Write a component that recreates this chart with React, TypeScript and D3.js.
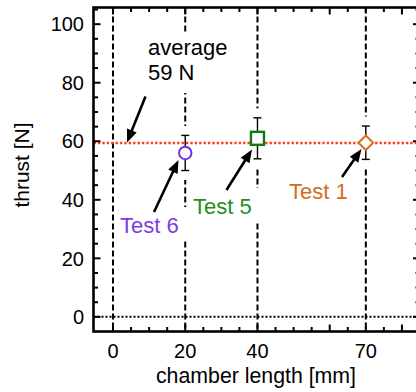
import React from "react";
import * as d3 from "d3";

// ---- data ----
const testNames = ["Test 6", "Test 5", "Test 1"];
const chamberLengths = [20, 40, 70];
const thrustValues = [56, 61, 59.5];
const thrustErrors = [6, 7, 5.7];
const markerShapes = ["circle", "square", "diamond"];
const markerColors = ["#7433e0", "#127a12", "#d9701c"];
const labelColors = ["#7a3ee6", "#1f8f1f", "#d46c1f"];
const averageThrust = 59.4;
const guideLengths = [0, 20, 40, 70];
const xTickLabels = [0, 20, 40, 70];
const yTickLabels = [0, 20, 40, 60, 80, 100];

const W = 416;
const H = 392;
const FONT = "'Liberation Sans', Arial, Helvetica, sans-serif";

const x = d3.scaleLinear().domain([-5.4, 85]).range([93.5, 420]);
const y = d3.scaleLinear().domain([-5, 105.7]).range([331.5, 7.5]);

function Arrow({ x1, y1, x2, y2 }: { x1: number; y1: number; x2: number; y2: number }) {
  const dx = x2 - x1, dy = y2 - y1;
  const len = Math.hypot(dx, dy);
  const ux = dx / len, uy = dy / len;
  const hl = 13, hw = 5.2;
  const bx = x2 - ux * hl, by = y2 - uy * hl;
  const px = -uy, py = ux;
  return (
    <g>
      <line x1={x1} y1={y1} x2={bx + ux * 2} y2={by + uy * 2} stroke="#000" strokeWidth={2.6} />
      <path
        d={`M${x2},${y2}L${bx + px * hw},${by + py * hw}L${bx - px * hw},${by - py * hw}Z`}
        fill="#000"
      />
    </g>
  );
}

function Marker({ shape, cx, cy, color }: { shape: string; cx: number; cy: number; color: string }) {
  if (shape === "circle")
    return <circle cx={cx} cy={cy} r={6.2} fill="#fff" stroke={color} strokeWidth={2} />;
  if (shape === "square")
    return <rect x={cx - 6.5} y={cy - 6.5} width={13} height={13} fill="#fff" stroke={color} strokeWidth={2.4} />;
  const s = 7.3;
  return (
    <path
      d={`M${cx},${cy - s}L${cx + s},${cy}L${cx},${cy + s}L${cx - s},${cy}Z`}
      fill="#fff"
      stroke={color}
      strokeWidth={2}
    />
  );
}

export default function App() {
  const [x0, x1] = x.range();
  const [y0, y1] = y.range(); // y0 bottom, y1 top
  const xTicks = d3.range(0, 86, 5).filter((v) => x(v) > x0 + 1 && x(v) < x1 - 1);
  const yTicks = d3.range(0, 106, 5).filter((v) => y(v) < y0 - 1 && y(v) > y1 + 1);

  return (
    <svg
      width={W}
      height={H}
      style={{ position: "absolute", left: 0, top: 0, display: "block", background: "#fff" }}
      fontFamily={FONT}
    >
      {/* vertical dashed guides */}
      {guideLengths.map((g) => (
        <line key={"g" + g} x1={x(g)} x2={x(g)} y1={y1} y2={y0} stroke="#000" strokeWidth={2} strokeDasharray="6,3" />
      ))}

      {/* white halos behind error bars */}
      {chamberLengths.map((c, i) => (
        <rect
          key={"h" + i}
          x={x(c) - 5}
          width={10}
          y={y(thrustValues[i] + thrustErrors[i]) - 9.5}
          height={y(thrustValues[i] - thrustErrors[i]) - y(thrustValues[i] + thrustErrors[i]) + 19}
          fill="#fff"
        />
      ))}

      {/* white boxes behind annotations */}
      <rect x={142} y={33} width={92} height={60} fill="#fff" />
      <rect x={116} y={207} width={74} height={34} fill="#fff" />
      <rect x={189} y={188} width={73} height={34} fill="#fff" />

      {/* zero line */}
      <line x1={x0} x2={x1} y1={y(0)} y2={y(0)} stroke="#000" strokeWidth={2} strokeDasharray="2,2" />
      {/* average line */}
      <line x1={x0} x2={x1} y1={y(averageThrust)} y2={y(averageThrust)} stroke="#ff3d1f" strokeWidth={2.4} strokeDasharray="2.4,2" />

      {/* error bars */}
      {chamberLengths.map((c, i) => {
        const cx = x(c);
        const t = y(thrustValues[i] + thrustErrors[i]);
        const b = y(thrustValues[i] - thrustErrors[i]);
        return (
          <g key={"e" + i} stroke="#000" strokeWidth={1.4}>
            <line x1={cx} x2={cx} y1={t} y2={b} />
            <line x1={cx - 4} x2={cx + 4} y1={t} y2={t} />
            <line x1={cx - 4} x2={cx + 4} y1={b} y2={b} />
          </g>
        );
      })}

      {/* markers */}
      {chamberLengths.map((c, i) => (
        <Marker key={"m" + i} shape={markerShapes[i]} cx={x(c)} cy={y(thrustValues[i])} color={markerColors[i]} />
      ))}

      {/* frame */}
      <rect x={x0} y={y1} width={x1 - x0} height={y0 - y1} fill="none" stroke="#000" strokeWidth={2.6} />

      {/* x ticks (bottom & top, inward) */}
      {xTicks.map((v) => {
        const major = v % 20 === 0;
        const l = major ? 7 : 4.5;
        return (
          <g key={"xt" + v} stroke="#000" strokeWidth={2}>
            <line x1={x(v)} x2={x(v)} y1={y0} y2={y0 - l} />
            <line x1={x(v)} x2={x(v)} y1={y1} y2={y1 + l} />
          </g>
        );
      })}
      {/* y ticks (left & right, inward) */}
      {yTicks.map((v) => {
        const major = v % 20 === 0;
        const l = major ? 7 : 4.5;
        return (
          <g key={"yt" + v} stroke="#000" strokeWidth={2}>
            <line x1={x0} x2={x0 + l} y1={y(v)} y2={y(v)} />
            <line x1={x1} x2={x1 - l} y1={y(v)} y2={y(v)} />
          </g>
        );
      })}

      {/* tick labels */}
      {xTickLabels.map((v) => (
        <text key={"xl" + v} x={x(v)} y={358} textAnchor="middle" fontSize={20} fill="#000">
          {v}
        </text>
      ))}
      {yTickLabels.map((v) => (
        <text key={"yl" + v} x={84} y={y(v)} dy="0.36em" textAnchor="end" fontSize={20} fill="#000">
          {v}
        </text>
      ))}

      {/* axis titles */}
      <text x={256} y={383} textAnchor="middle" fontSize={21.3} fill="#000">
        chamber length [mm]
      </text>
      <text transform="translate(29,165) rotate(-90)" textAnchor="middle" fontSize={21} fill="#000">
        thrust [N]
      </text>

      {/* annotations */}
      <text x={148} y={55} fontSize={22} fill="#000">average</text>
      <text x={148} y={79.5} fontSize={22} fill="#000">59 N</text>
      <Arrow x1={145.5} y1={96.5} x2={127} y2={142.5} />

      <text x={120} y={233} fontSize={22} fill={labelColors[0]}>{testNames[0]}</text>
      <Arrow x1={154} y1={212} x2={178.5} y2={160} />

      <text x={193} y={213.5} fontSize={22} fill={labelColors[1]}>{testNames[1]}</text>
      <Arrow x1={226.5} y1={190} x2={252} y2={149.5} />

      <text x={289} y={199} fontSize={22} fill={labelColors[2]}>{testNames[2]}</text>
      <Arrow x1={342} y1={177} x2={361.5} y2={149} />
    </svg>
  );
}
